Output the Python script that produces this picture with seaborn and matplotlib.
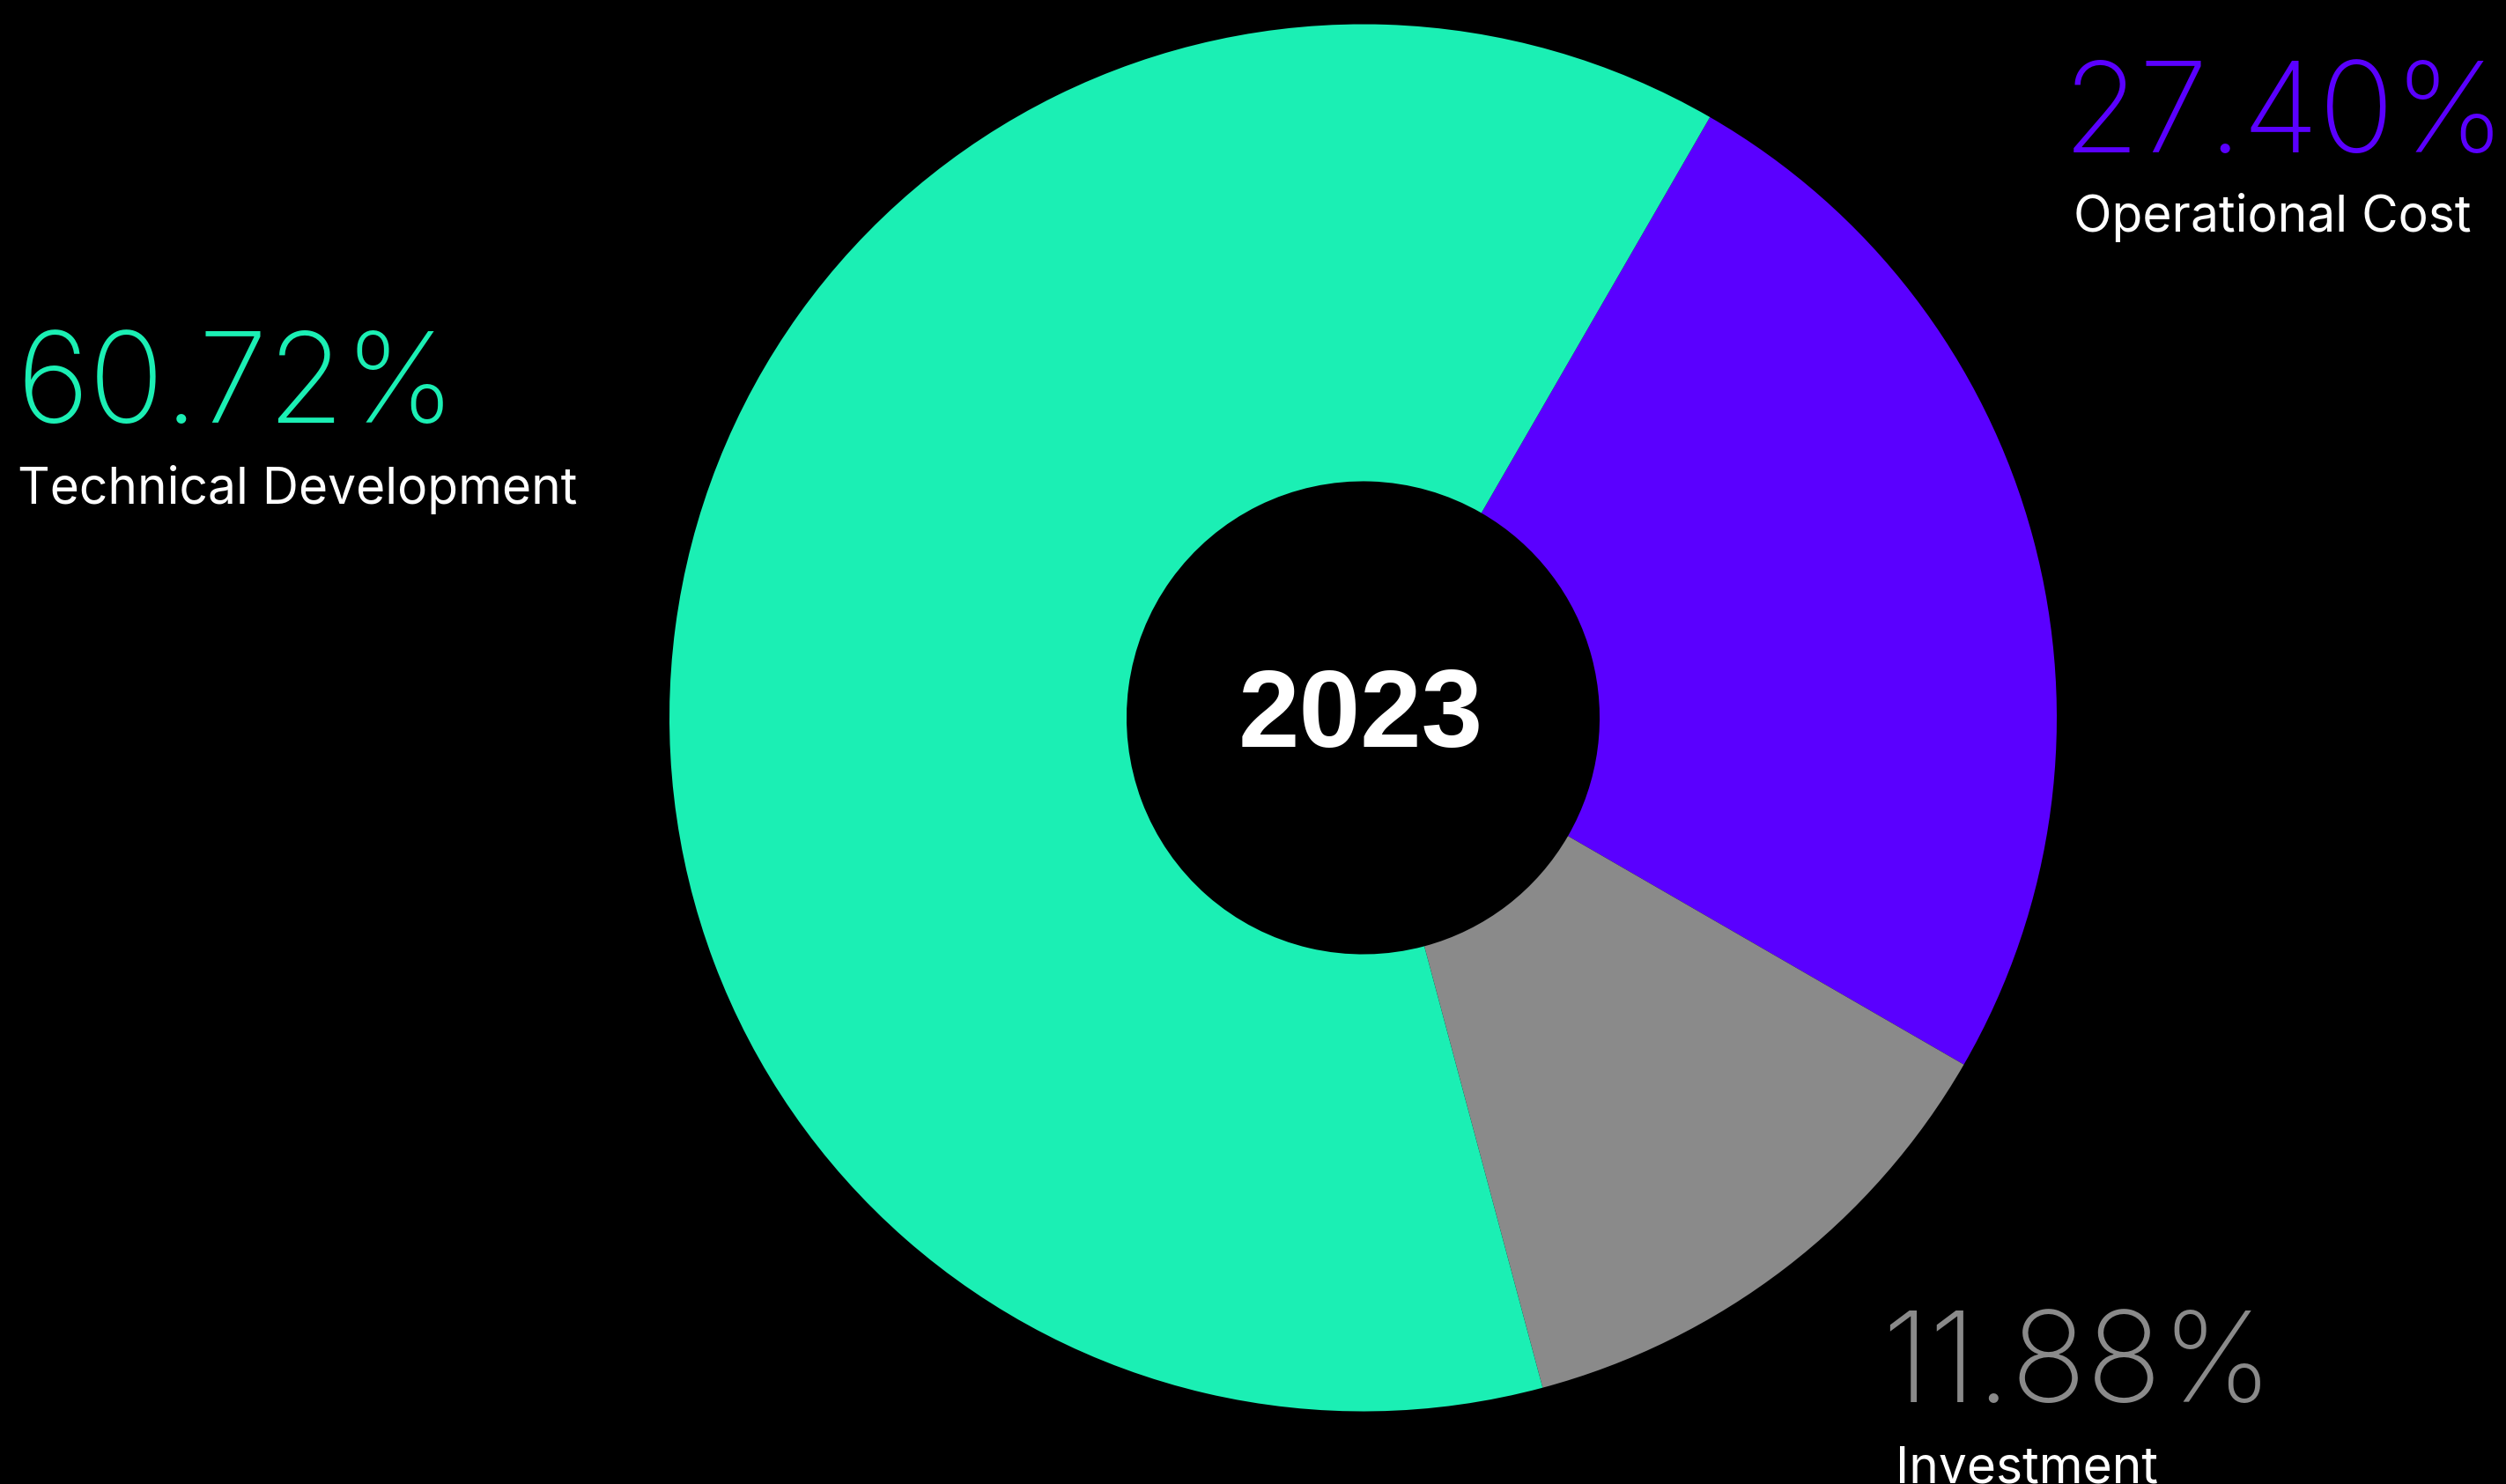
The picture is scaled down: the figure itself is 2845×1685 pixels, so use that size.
import matplotlib
matplotlib.use("Agg")
import matplotlib.pyplot as plt
import seaborn as sns

# data
categories = ["Operational Cost", "Investment", "Technical Development"]
label_pcts = ["27.40%", "11.88%", "60.72%"]
# slice shares as drawn in the chart
slice_shares = [25.0, 12.5, 62.5]
colors = ["#5A00FF", "#8A8A8A", "#1BEFB4"]
center_text = "2023"

sns.set_theme(style="white")
plt.rcParams["font.family"] = ["Inter", "DejaVu Sans"]

W, H = 2845, 1685
fig = plt.figure(figsize=(W / 100, H / 100), dpi=100, facecolor="black")

# donut axes: centre (1547, 815) px, outer radius ~787 px
cx, cy, r = 1547.5, 815, 787.5
ax = fig.add_axes([(cx - r) / W, (H - cy - r) / H, 2 * r / W, 2 * r / H])
ax.set_facecolor("black")
ax.pie(slice_shares, colors=colors, startangle=60, counterclock=False,
       radius=1, wedgeprops=dict(width=0.659, linewidth=0))
ax.set_xlim(-1, 1)
ax.set_ylim(-1, 1)
ax.set_aspect("equal")
ax.axis("off")

ax.text(-0.003, -0.042, center_text, ha="center", va="baseline", color="white",
        fontsize=90, fontweight="bold",
        family=["Liberation Sans", "DejaVu Sans"])


def px(x, y):
    return x / W, 1 - y / H


# percentage + category labels (x, baseline of number, baseline of label)
spots = {
    "Technical Development": (18, 480, 572),
    "Operational Cost": (2342, 173, 263),
    "Investment": (2136, 1592, 1683),
}
for cat, pct, col in zip(categories, label_pcts, colors):
    x, yb, yl = spots[cat]
    fig.text(*px(x, yb), pct, color=col, fontsize=102, fontweight="light",
             ha="left", va="baseline")
    lx = x + {"Investment": 16, "Operational Cost": 12}.get(cat, 2)
    fig.text(*px(lx, yl), cat, color="white", fontsize=41,
             ha="left", va="baseline")

fig.savefig("out.png", dpi=100, facecolor="black")
